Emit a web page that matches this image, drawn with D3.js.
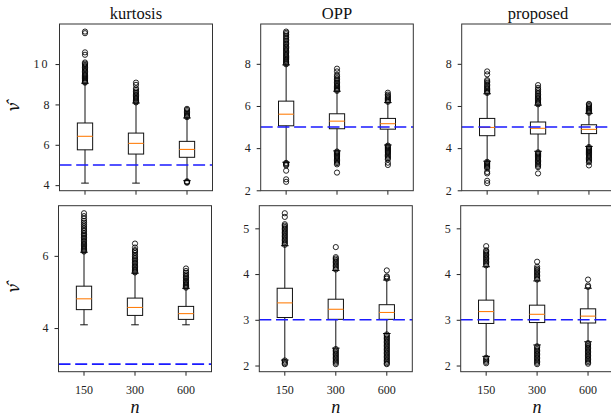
<!DOCTYPE html>
<html><head><meta charset="utf-8">
<script src="https://cdn.jsdelivr.net/npm/d3@7"></script>
<style>
html,body{margin:0;padding:0;background:#fff;}
svg{display:block;}
</style></head>
<body>
<svg id="chart" width="611" height="415"></svg>
<script>
// ---------- data ----------
const categories = ["150", "300", "600"];
const methods = ["kurtosis", "OPP", "proposed"];
const trueNu = [5, 3];               // reference value per row
const xLabel = "n";
const yLabel = "ν\u0302";

const topTicksKurtosis = [4, 6, 8, 10];
const topTicksShared = [2, 4, 6, 8];
const bottomTicksKurtosis = [4, 6];
const bottomTicksShared = [2, 3, 4, 5];

// box stats per n: [lower whisker, Q1, median, Q3, upper whisker]
const topKurtosisBoxes = [[4.1, 5.75, 6.42, 7.08, 9.05], [4.1, 5.54, 6.07, 6.58, 8.07], [4.22, 5.38, 5.77, 6.17, 7.33]];
const topOppBoxes      = [[3.33, 5.06, 5.61, 6.23, 7.95], [3.87, 4.92, 5.28, 5.63, 6.70], [4.15, 4.90, 5.16, 5.41, 6.16]];
const topPropBoxes     = [[3.38, 4.59, 4.98, 5.41, 6.58], [3.85, 4.67, 4.94, 5.24, 6.04], [4.08, 4.69, 4.89, 5.11, 5.65]];
const botKurtosisBoxes = [[4.09, 4.51, 4.81, 5.16, 6.10], [4.09, 4.35, 4.57, 4.83, 5.52], [4.09, 4.24, 4.40, 4.60, 5.10]];
const botOppBoxes      = [[2.12, 3.05, 3.37, 3.69, 4.62], [2.38, 3.01, 3.23, 3.45, 4.08], [2.70, 3.01, 3.16, 3.33, 3.87]];
const botPropBoxes     = [[2.20, 2.92, 3.18, 3.43, 4.16], [2.45, 2.94, 3.12, 3.32, 3.85], [2.52, 2.93, 3.08, 3.24, 3.69]];

// outliers per n
const topKurtosisOutliers = [
  [9.08, 9.12, 9.17, 9.22, 9.28, 9.33, 9.39, 9.44, 9.5, 9.57, 9.63, 9.7, 9.76, 9.83, 9.9, 9.96, 10.02, 10.08, 10.46, 10.58, 11.53, 11.61],
  [8.1, 8.15, 8.2, 8.26, 8.32, 8.38, 8.44, 8.5, 8.57, 8.64, 8.72, 8.8, 8.97, 9.08],
  [7.37, 7.42, 7.47, 7.53, 7.59, 7.66, 7.73, 7.78, 4.19, 4.15, 4.12]
];
const topOppOutliers = [
  [7.98, 8.03, 8.08, 8.13, 8.19, 8.24, 8.3, 8.35, 8.41, 8.47, 8.53, 8.59, 8.65, 8.71, 8.77, 8.83, 8.9, 8.96, 9.03, 9.1, 9.17, 9.24, 9.32, 9.4, 9.47, 9.53,
   3.3, 3.26, 3.22, 3.18, 2.93, 2.52, 2.4],
  [6.72, 6.77, 6.82, 6.87, 6.93, 6.99, 7.05, 7.11, 7.18, 7.25, 7.32, 7.4, 7.48, 7.64, 7.77,
   3.84, 3.79, 3.74, 3.69, 3.64, 3.59, 3.53, 3.47, 3.41, 3.35, 3.29, 3.23, 2.84],
  [6.2, 6.25, 6.3, 6.36, 6.42, 6.48, 6.54, 6.63,
   4.12, 4.07, 4.02, 3.97, 3.92, 3.87, 3.82, 3.77, 3.71, 3.65, 3.59, 3.53, 3.47, 3.31, 3.2]
];
const topPropOutliers = [
  [6.62, 6.67, 6.72, 6.78, 6.84, 6.9, 6.96, 7.03, 7.1, 7.17, 7.23, 7.5, 7.64,
   3.35, 3.3, 3.25, 3.2, 3.15, 3.1, 3.05, 2.87, 2.8, 2.45, 2.34],
  [6.08, 6.13, 6.18, 6.24, 6.3, 6.36, 6.42, 6.48, 6.55, 6.62, 6.7, 6.78, 6.86, 6.99,
   3.8, 3.75, 3.7, 3.65, 3.6, 3.54, 3.48, 3.42, 3.36, 3.3, 3.23, 3.16, 3.1, 2.8],
  [5.68, 5.73, 5.78, 5.83, 5.88, 5.94, 6.0, 6.06, 6.1,
   4.05, 4.0, 3.95, 3.9, 3.85, 3.8, 3.75, 3.69, 3.63, 3.57, 3.51, 3.45, 3.39, 3.33, 3.18]
];
const botKurtosisOutliers = [
  [6.12, 6.15, 6.18, 6.21, 6.25, 6.28, 6.32, 6.35, 6.39, 6.43, 6.47, 6.51, 6.55, 6.59, 6.63, 6.68, 6.72, 6.77, 6.82, 6.87, 6.92, 6.97, 7.03, 7.1, 7.18],
  [5.54, 5.57, 5.6, 5.63, 5.67, 5.7, 5.74, 5.78, 5.82, 5.86, 5.9, 5.94, 5.98, 6.03, 6.08, 6.13, 6.16, 6.23, 6.34],
  [5.12, 5.15, 5.18, 5.21, 5.25, 5.28, 5.32, 5.36, 5.4, 5.44, 5.48, 5.53, 5.58, 5.65]
];
const botOppOutliers = [
  [4.64, 4.67, 4.7, 4.73, 4.76, 4.79, 4.82, 4.85, 4.88, 4.91, 4.94, 4.97, 5.0, 5.03, 5.06, 5.09, 5.25, 5.33,
   2.11, 2.08, 2.05, 2.03],
  [4.1, 4.13, 4.16, 4.19, 4.22, 4.25, 4.28, 4.31, 4.34, 4.37, 4.59,
   2.36, 2.33, 2.3, 2.27, 2.24, 2.21, 2.18, 2.15, 2.12, 2.09, 2.06, 2.03],
  [3.9, 3.93, 3.95, 4.08,
   2.68, 2.65, 2.62, 2.59, 2.56, 2.53, 2.5, 2.47, 2.44, 2.41, 2.38, 2.35, 2.32, 2.29, 2.26, 2.23, 2.2, 2.17, 2.14, 2.11, 2.08, 2.05, 2.03]
];
const botPropOutliers = [
  [4.19, 4.22, 4.25, 4.28, 4.31, 4.34, 4.37, 4.4, 4.43, 4.46, 4.49, 4.52, 4.61,
   2.17, 2.14, 2.11, 2.08, 2.05],
  [3.88, 3.91, 3.94, 3.97, 4.0, 4.03, 4.06, 4.09, 4.12, 4.16, 4.27,
   2.42, 2.39, 2.36, 2.33, 2.3, 2.27, 2.24, 2.21, 2.18, 2.15, 2.12, 2.09, 2.06, 2.03],
  [3.72, 3.75, 3.88,
   2.49, 2.46, 2.43, 2.4, 2.37, 2.34, 2.31, 2.28, 2.25, 2.22, 2.19, 2.16, 2.13, 2.1, 2.07, 2.04]
];

// ---------- layout ----------
const rowY = [[24, 190.7], [205.7, 371.7]];
const colX = [
  [[59.5, 212.5], [260.7, 413.3], [461.7, 614.4]],
  [[58.5, 211.5], [259.3, 412.3], [460.7, 613.5]]
];
const panels = [
  {r:0, c:0, boxes: topKurtosisBoxes, out: topKurtosisOutliers, ticks: topTicksKurtosis, share: "t0"},
  {r:0, c:1, boxes: topOppBoxes,      out: topOppOutliers,      ticks: topTicksShared,   share: "t1"},
  {r:0, c:2, boxes: topPropBoxes,     out: topPropOutliers,     ticks: topTicksShared,   share: "t1"},
  {r:1, c:0, boxes: botKurtosisBoxes, out: botKurtosisOutliers, ticks: bottomTicksKurtosis, share: "b0"},
  {r:1, c:1, boxes: botOppBoxes,      out: botOppOutliers,      ticks: bottomTicksShared,   share: "b1"},
  {r:1, c:2, boxes: botPropBoxes,     out: botPropOutliers,     ticks: bottomTicksShared,   share: "b1"}
];

// shared y domains: data extent incl. reference line, 5% margin
const domains = {};
panels.forEach(p => {
  const vals = [trueNu[p.r]];
  p.boxes.forEach(b => vals.push(...b));
  p.out.forEach(o => vals.push(...o));
  const e = d3.extent(vals);
  if (!domains[p.share]) domains[p.share] = e;
  else domains[p.share] = [Math.min(domains[p.share][0], e[0]), Math.max(domains[p.share][1], e[1])];
});

const svg = d3.select("#chart");
const FONT = "'Liberation Serif', 'Times New Roman', serif";
const MATHFONT = "'Noto Serif', 'DejaVu Serif', serif";

panels.forEach(p => {
  const [x0, x1] = colX[p.r][p.c];
  const [y0, y1] = rowY[p.r];
  const dom = domains[p.share];
  const pad = (dom[1] - dom[0]) * 0.05;
  const y = d3.scaleLinear().domain([dom[0] - pad, dom[1] + pad]).range([y1, y0]);
  const x = d3.scaleBand().domain(categories).range([x0, x1]).paddingInner(0).paddingOuter(0);
  const bw = x.bandwidth();
  const cx = d => x(d) + bw / 2;
  const boxW = bw * 0.3, capW = bw * 0.15;

  const g = svg.append("g");

  // axes
  const xa = d3.axisBottom(x).tickSize(4).tickPadding(10);
  if (p.r === 0) xa.tickFormat("");
  const gx = g.append("g").attr("transform", `translate(0,${y1})`).call(xa);
  const ya = d3.axisLeft(y).tickValues(p.ticks).tickSize(4).tickPadding(6).tickFormat(d3.format("d"));
  const gy = g.append("g").attr("transform", `translate(${x0},0)`).call(ya);
  [gx, gy].forEach(a => {
    a.attr("font-family", FONT).attr("font-size", 12);
    a.select(".domain").remove();
    a.selectAll(".tick line").attr("stroke", "#222").attr("stroke-width", 1);
    a.selectAll(".tick text").attr("fill", "#222");
  });
  gy.selectAll(".tick text").filter(d => d >= 10).attr("letter-spacing", 2);

  // boxes
  p.boxes.forEach((b, i) => {
    const cat = categories[i];
    const xc = cx(cat);
    const [lo, q1, med, q3, hi] = b;
    const bg = g.append("g").attr("stroke", "#111").attr("fill", "none").attr("stroke-width", 1);
    bg.append("line").attr("x1", xc).attr("x2", xc).attr("y1", y(q1)).attr("y2", y(lo));
    bg.append("line").attr("x1", xc).attr("x2", xc).attr("y1", y(q3)).attr("y2", y(hi));
    bg.append("line").attr("x1", xc - capW / 2).attr("x2", xc + capW / 2).attr("y1", y(lo)).attr("y2", y(lo));
    bg.append("line").attr("x1", xc - capW / 2).attr("x2", xc + capW / 2).attr("y1", y(hi)).attr("y2", y(hi));
    bg.append("rect").attr("x", xc - boxW / 2).attr("width", boxW)
      .attr("y", y(q3)).attr("height", y(q1) - y(q3));
    g.append("line").attr("x1", xc - boxW / 2).attr("x2", xc + boxW / 2)
      .attr("y1", y(med)).attr("y2", y(med)).attr("stroke", "#ff7f0e").attr("stroke-width", 1.1);
    g.append("g").selectAll("circle").data(p.out[i]).join("circle")
      .attr("cx", xc).attr("cy", d => y(d)).attr("r", 2.6)
      .attr("fill", "none").attr("stroke", "#000").attr("stroke-width", 0.85);
  });

  // reference line
  g.append("line").attr("x1", x0).attr("x2", x1)
    .attr("y1", y(trueNu[p.r])).attr("y2", y(trueNu[p.r]))
    .attr("stroke", "#1a1aff").attr("stroke-width", 1.6).attr("stroke-dasharray", "12,4.7");

  // frame
  g.append("rect").attr("x", x0).attr("y", y0).attr("width", x1 - x0).attr("height", y1 - y0)
    .attr("fill", "none").attr("stroke", "#333").attr("stroke-width", 1);

  // title
  if (p.r === 0) {
    g.append("text").attr("x", (x0 + x1) / 2).attr("y", 18.5).attr("text-anchor", "middle")
      .attr("font-family", FONT).attr("font-size", 16.5).attr("fill", "#111").text(methods[p.c]);
  }
  // x label
  if (p.r === 1) {
    g.append("text").attr("x", (x0 + x1) / 2).attr("y", 412.5).attr("text-anchor", "middle")
      .attr("font-family", FONT).attr("font-style", "italic").attr("font-size", 18).attr("fill", "#111").text(xLabel);
  }
  // y label (nu with hat)
  if (p.c === 0) {
    const ym = (y0 + y1) / 2;
    g.append("text").attr("transform", `translate(19,${ym}) rotate(-90)`).attr("text-anchor", "middle")
      .attr("font-family", MATHFONT).attr("font-style", "italic").attr("font-size", 17).attr("fill", "#111").text(yLabel);
  }
});
</script>
</body></html>
